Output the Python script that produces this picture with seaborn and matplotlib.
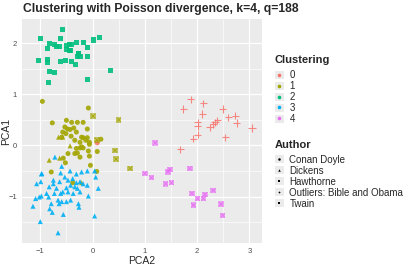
import matplotlib
matplotlib.use("Agg")
import matplotlib.pyplot as plt
import seaborn as sns
import pandas as pd
from matplotlib.lines import Line2D
from matplotlib.patches import Patch

# ---- data (x = PCA2, y = PCA1) ----
# cluster 0: outliers (Bible and Obama) plus a stray point
c0_x = [1.88, 2.12, 1.74, 2.49, 2.73, 2.60, 2.10, 2.01, 2.39, 2.34, 2.25, 2.01,
        2.31, 2.76, 3.05, 2.01, 1.93, 2.54, 1.68, 0.09]
c0_y = [0.90, 0.82, 0.71, 0.71, 0.58, 0.55, 0.61, 0.45, 0.49, 0.45, 0.35, 0.37,
        0.41, 0.44, 0.34, 0.21, 0.13, 0.16, -0.08, 0.05]
c0_a = ["Outliers: Bible and Obama"] * 19 + ["Conan Doyle"]

# cluster 1
c1_x = [-0.96, -0.08, 0.01, 0.50, -0.77, -0.50, -0.40, -0.29, -0.18, -0.53,
        -0.48, -0.43, -0.36, -0.31, -0.10, -0.57, -0.51, -0.41, -0.65, -0.57,
        -0.59, -0.21, -0.18, -0.10, 0.16, 0.08, -0.13, -0.34, -0.24, -0.06,
        -0.06, -0.43, -0.21, -0.31, -0.24, -0.18, -0.47, -0.34, -0.24, -0.29,
        -0.08, 0.09, 0.43, 0.45, -0.06, -0.63, -0.56, -0.83, -0.52, -0.04,
        0.72, -0.79, 0.08, -0.21, -0.38]
c1_y = [0.86, 0.73, 0.57, 0.50, 0.44, 0.49, 0.45, 0.45, 0.45, 0.36,
        0.32, 0.31, 0.34, 0.26, 0.32, 0.26, 0.23, 0.18, 0.16, 0.16,
        0.16, 0.16, 0.15, 0.15, 0.12, 0.11, 0.10, 0.10, 0.06, 0.06,
        0.02, -0.01, -0.03, -0.06, -0.05, -0.05, -0.16, -0.16, -0.23, -0.15,
        -0.11, -0.12, -0.10, -0.27, -0.21, -0.25, -0.25, -0.29, -0.34, -0.39,
        -0.45, -0.52, -0.51, -0.73, -0.73]
c1_a = ["Conan Doyle", "Conan Doyle", "Twain", "Twain", "Conan Doyle",
        "Conan Doyle", "Conan Doyle", "Conan Doyle", "Conan Doyle", "Conan Doyle",
        "Conan Doyle", "Conan Doyle", "Conan Doyle", "Conan Doyle", "Conan Doyle",
        "Conan Doyle", "Conan Doyle", "Conan Doyle", "Dickens", "Dickens",
        "Conan Doyle", "Conan Doyle", "Conan Doyle", "Conan Doyle", "Conan Doyle",
        "Twain", "Conan Doyle", "Conan Doyle", "Conan Doyle", "Conan Doyle",
        "Conan Doyle", "Dickens", "Conan Doyle", "Conan Doyle", "Conan Doyle",
        "Conan Doyle", "Conan Doyle", "Conan Doyle", "Conan Doyle", "Conan Doyle",
        "Conan Doyle", "Conan Doyle", "Twain", "Twain", "Conan Doyle",
        "Dickens", "Conan Doyle", "Dickens", "Conan Doyle", "Conan Doyle",
        "Twain", "Conan Doyle", "Conan Doyle", "Dickens", "Conan Doyle"]

# cluster 2: Hawthorne
c2_x = [-0.58, -1.00, -0.83, -0.61, -0.72, -0.45, -0.40, -0.50, -0.31, -0.18,
        0.01, 0.13, -0.87, -0.69, -0.64, -0.50, -0.45, -0.42, -0.27, -0.26,
        -0.29, -0.24, -0.10, -0.51, -1.04, -0.87, -0.87, -0.61, -0.33, -0.10,
        -0.82, -0.73, 0.34, -0.84, -0.10, -0.40]
c2_y = [2.27, 2.09, 1.99, 2.09, 1.98, 1.98, 1.98, 1.96, 2.01, 2.01,
        2.06, 2.11, 1.90, 1.94, 1.94, 1.87, 1.85, 1.85, 1.79, 1.79,
        1.74, 1.74, 1.92, 1.66, 1.66, 1.68, 1.62, 1.64, 1.59, 1.74,
        1.45, 1.43, 1.47, 1.23, 1.28, 1.64]
c2_a = ["Hawthorne"] * len(c2_x)

# cluster 3: Dickens
c3_x = [-0.72, -0.98, -0.97, -1.07, -0.99, -0.75, -0.61, -0.43, -0.31, -0.21,
        -0.10, 0.04, -0.83, -0.75, -0.63, -0.53, -0.47, -0.38, -0.31, -0.24,
        -0.42, -0.34, -0.29, -0.50, -0.57, -0.69, -0.73, -0.61, -0.47, -0.37,
        -0.24, -0.10, 0.06, 0.11, -0.88, -0.98, -1.02, -0.84, -0.66, -0.59,
        -0.50, -0.42, -0.08, -0.27, -0.26, -0.82, -0.77, -1.14, -0.56, 0.04,
        -1.00, -0.66, -1.09, -0.79, -0.64, -0.18, -0.59]
c3_y = [-0.23, -0.56, -0.55, -0.75, -0.71, -0.68, -0.54, -0.50, -0.56, -0.52,
        -0.50, -0.50, -0.81, -0.75, -0.71, -0.62, -0.68, -0.65, -0.73, -0.71,
        -0.78, -0.81, -0.84, -0.83, -0.91, -0.84, -0.94, -0.94, -0.91, -0.94,
        -0.91, -0.78, -0.62, -0.84, -0.94, -0.99, -1.01, -1.01, -1.07, -1.10,
        -1.10, -1.07, -0.99, -1.14, -1.21, -1.24, -1.31, -1.19, -1.35, -1.38,
        -1.49, -1.71, -1.04, -1.14, -1.14, -0.75, -0.41]
c3_a = ["Dickens"] * len(c3_x)

# cluster 4: Twain
c4_x = [1.20, 1.86, 1.48, 1.44, 1.00, 1.13, 1.40, 1.51, 1.90, 2.15,
        2.31, 2.01, 2.12, 1.93, 2.46, 2.49]
c4_y = [0.05, -0.45, -0.47, -0.52, -0.55, -0.63, -0.75, -0.73, -0.94, -0.96,
        -0.88, -1.04, -1.04, -1.17, -1.15, -1.37]
c4_a = ["Twain"] * len(c4_x)

clusters = ["0", "1", "2", "3", "4"]
authors = ["Conan Doyle", "Dickens", "Hawthorne", "Outliers: Bible and Obama", "Twain"]
palette = ["#F8766D", "#A3A500", "#00BF7D", "#00B0F6", "#E76BF3"]
markers = ["o", "^", "s", "+", "s"]
x_ticks = [-1, 0, 1, 2, 3]
y_ticks = [-1, 0, 1, 2]

frames = []
for cl, xs, ys, au in zip(clusters, [c0_x, c1_x, c2_x, c3_x, c4_x],
                          [c0_y, c1_y, c2_y, c3_y, c4_y],
                          [c0_a, c1_a, c2_a, c3_a, c4_a]):
    frames.append(pd.DataFrame({"PCA2": xs, "PCA1": ys, "Clustering": cl, "Author": au}))
df = pd.concat(frames, ignore_index=True)

sns.set_theme(style="darkgrid", rc={
    "axes.facecolor": "#EBEBEB",
    "grid.color": "white",
    "xtick.color": "#4D4D4D",
    "ytick.color": "#4D4D4D",
})
plt.rcParams["font.family"] = ["Liberation Sans", "DejaVu Sans"]

fig = plt.figure(figsize=(4.15, 2.68), dpi=100)
ax = fig.add_axes([0.053, 0.093, 0.578, 0.836])

colors = dict(zip(clusters, palette))
shapes = dict(zip(authors, markers))
for au in authors:
    sub = df[df["Author"] == au]
    if au == "Outliers: Bible and Obama":
        sns.scatterplot(data=sub, x="PCA2", y="PCA1", hue="Clustering", palette=colors,
                        marker="+", s=28, linewidth=0.8, alpha=0.85, legend=False, ax=ax)
    elif au == "Twain":
        # ggplot shape 7: square with a cross inside
        sns.scatterplot(data=sub, x="PCA2", y="PCA1", hue="Clustering", palette=colors,
                        marker="s", s=16, linewidth=0, alpha=0.55, legend=False, ax=ax)
        sns.scatterplot(data=sub, x="PCA2", y="PCA1", hue="Clustering", palette=colors,
                        marker="x", s=10, linewidth=0.6, alpha=0.9, legend=False, ax=ax)
    else:
        sns.scatterplot(data=sub, x="PCA2", y="PCA1", hue="Clustering", palette=colors,
                        marker=shapes[au], s=13, linewidth=0, alpha=0.9,
                        legend=False, ax=ax)

ax.set_xlim(-1.35, 3.24)
ax.set_ylim(-1.91, 2.47)
ax.set_xticks(x_ticks)
ax.set_yticks(y_ticks)
ax.set_xticks([-0.5, 0.5, 1.5, 2.5], minor=True)
ax.set_yticks([-1.5, -0.5, 0.5, 1.5], minor=True)
ax.grid(which="major", color="white", linewidth=0.9)
ax.grid(which="minor", color="white", linewidth=0.45)
ax.tick_params(axis="both", which="major", labelsize=5.5, length=2, width=0.5,
               color="#333333", pad=1.5)
ax.tick_params(axis="both", which="minor", length=0)
ax.set_xlabel("PCA2", fontsize=7.5, labelpad=1)
ax.set_ylabel("PCA1", fontsize=7.5)
ax.yaxis.set_label_coords(-0.045, 0.5)
for s in ax.spines.values():
    s.set_visible(False)

fig.text(0.055, 0.965, "Clustering with Poisson divergence, k=4, q=188",
         fontsize=8.7, fontweight="bold", va="center", ha="left")

bg = "#EBEBEB"
h1 = [(Patch(facecolor=bg, edgecolor="none"),
       Line2D([], [], marker="o", color=c, linestyle="", markersize=1.6)) for c in palette]
h2 = [(Patch(facecolor=bg, edgecolor="none"),
       Line2D([], [], marker=m, color="black", linestyle="", markersize=1.8,
              markeredgewidth=0.5 if m == "+" else 0)) for m in markers]

legend_kw = dict(loc="upper left", frameon=False, fontsize=7,
                 title_fontproperties={"weight": "bold", "size": 8},
                 handlelength=0.9, handleheight=0.9, handletextpad=0.6,
                 labelspacing=0.1, alignment="left", borderpad=0.1)
leg1 = fig.legend(h1, clusters, title="Clustering",
                  bbox_to_anchor=(0.648, 0.815), **legend_kw)
leg2 = fig.legend(h2, authors, title="Author",
                  bbox_to_anchor=(0.648, 0.50), **legend_kw)
for leg in (leg1, leg2):
    leg._legend_box.sep = 3.5

fig.savefig("out.png", dpi=100)
